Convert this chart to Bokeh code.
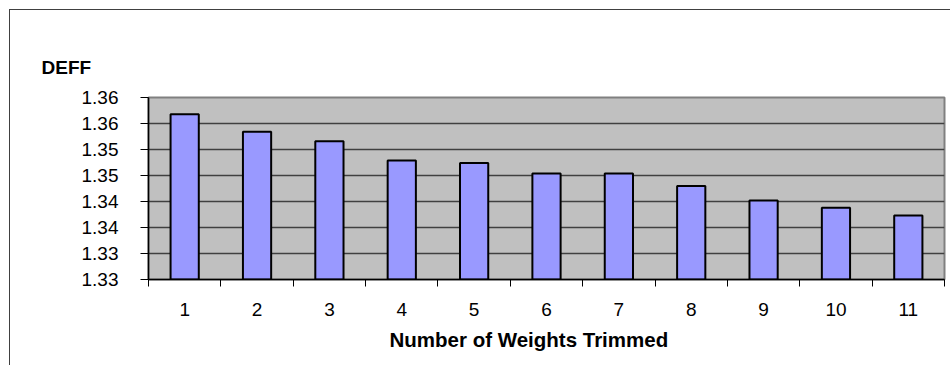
from bokeh.plotting import figure
from bokeh.models import FixedTicker, Range1d, Title, ColumnDataSource
from bokeh.embed import file_html
from bokeh.resources import INLINE

# Design effect after trimming the largest weights
trims = [1, 2, 3, 4, 5, 6, 7, 8, 9, 10, 11]
deff = [1.3568, 1.3534, 1.3516, 1.3479, 1.3474, 1.3454, 1.3454, 1.3430, 1.3402, 1.3388, 1.3373]

# Value axis: 1.325 .. 1.360 in steps of 0.005, labels rounded to two decimals
y_ticks = [1.325, 1.330, 1.335, 1.340, 1.345, 1.350, 1.355, 1.360]
y_tick_labels = ["1.33", "1.33", "1.34", "1.34", "1.35", "1.35", "1.36", "1.36"]

y_title = "DEFF"
x_title = "Number of Weights Trimmed"

FONT = "Liberation Sans"

src = ColumnDataSource(dict(x=trims, top=deff))

p = figure(
    width=941, height=356,
    x_range=Range1d(0.5, 11.5),
    y_range=Range1d(y_ticks[0], y_ticks[-1]),
    output_backend="svg", toolbar_location=None,
    min_border_left=138, min_border_top=87, min_border_right=7, min_border_bottom=87,
)
p.styles = {
    "margin-left": "9px", "margin-top": "9px",
    "border-left": "1px solid #404040", "border-top": "1px solid #404040",
}

p.background_fill_color = "#C0C0C0"
p.border_fill_color = "white"
p.outline_line_color = "#808080"
p.outline_line_width = 2

p.vbar(x="x", top="top", bottom=y_ticks[0], width=0.39, source=src,
       fill_color="#9999FF", line_color="black", line_width=2)

# gridlines
p.xgrid.visible = False
p.ygrid.ticker = FixedTicker(ticks=y_ticks)
p.ygrid.grid_line_color = "#404040"
p.ygrid.grid_line_width = 1.5

# y axis
p.yaxis.ticker = FixedTicker(ticks=y_ticks)
p.yaxis.major_label_overrides = {t: s for t, s in zip(y_ticks, y_tick_labels)}
p.yaxis.major_tick_out = 8
p.yaxis.major_tick_in = 0
p.yaxis.minor_tick_out = 0
p.yaxis.minor_tick_in = 0
p.yaxis.major_label_standoff = 22
p.yaxis.axis_line_color = "black"
p.yaxis.axis_line_width = 1.5
p.yaxis.major_tick_line_color = "black"
p.yaxis.major_label_text_font = FONT
p.yaxis.major_label_text_font_size = "19px"
p.yaxis.major_label_text_color = "black"

# x axis: labels at category centres, tick marks between categories
p.xaxis.ticker = FixedTicker(ticks=trims, minor_ticks=[t + 0.5 for t in range(0, 12)])
p.xaxis.major_tick_out = 0
p.xaxis.major_tick_in = 0
p.xaxis.minor_tick_out = 7
p.xaxis.minor_tick_in = 0
p.xaxis.minor_tick_line_color = "black"
p.xaxis.major_label_standoff = 16
p.xaxis.axis_line_color = "black"
p.xaxis.axis_line_width = 1.5
p.xaxis.major_label_text_font = FONT
p.xaxis.major_label_text_font_size = "19px"
p.xaxis.major_label_text_color = "black"

# value-axis title above the plot area, left of the frame
p.add_layout(Title(text=y_title, align="left", offset=-107, standoff=39,
                   text_font=FONT, text_font_style="bold", text_font_size="19px",
                   text_color="black"), "above")
# category-axis title below the tick labels
p.add_layout(Title(text=x_title, align="left", offset=241, standoff=15,
                   text_font=FONT, text_font_style="bold", text_font_size="20.5px",
                   text_color="black"), "below")

open("out.html", "w").write(file_html(p, INLINE))
